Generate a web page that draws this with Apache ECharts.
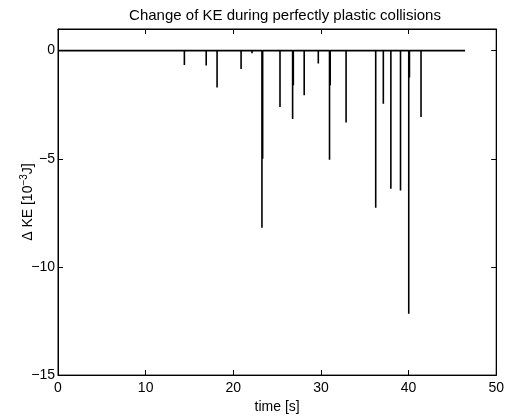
<!DOCTYPE html>
<html>
<head>
<meta charset="utf-8">
<script src="https://cdn.jsdelivr.net/npm/echarts@6/dist/echarts.min.js"></script>
<style>
  html, body { margin: 0; padding: 0; background: #fff; }
  #chart { width: 507px; height: 419px; }
</style>
</head>
<body>
<div id="chart"></div>
<script>
// collision instants [s] and the KE drop at each one [10^-3 J]
var spikeTimes = [14.42, 16.91, 18.15, 20.89, 22.14, 22.62, 23.27, 23.35, 25.33,
  26.77, 26.85, 28.09, 29.70, 30.98, 31.06, 32.87, 36.25, 37.12, 37.98,
  39.08, 40.02, 40.10, 41.42];
var spikeDrops = [-0.66, -0.69, -1.70, -0.85, -0.12, -0.06, -8.19, -5.0, -2.61,
  -3.16, -1.6, -2.06, -0.60, -5.05, -1.6, -3.32, -7.26, -2.45, -6.39,
  -6.47, -12.16, -1.24, -3.07];
var tStart = 0;
var tEnd = 46.45;

var xTicks = [0, 10, 20, 30, 40, 50];
var yTicks = [-15, -10, -5, 0];

// build the dKE(t) trace: zero between collisions, a drop at each one
var trace = [[tStart, 0]];
spikeTimes.forEach(function (t, i) {
  trace.push([t, 0], [t, spikeDrops[i]], [t, 0]);
});
trace.push([tEnd, 0]);

var fontFamily = 'Liberation Sans, Arial, sans-serif';
var minus = function (v) { return String(v).replace('-', '\u2212'); };

var myChart = echarts.init(document.getElementById('chart'));
var tickInside = { show: true, inside: true, length: 5, lineStyle: { color: '#000', width: 1 } };
var frameLine = { show: true, onZero: false, lineStyle: { color: '#000', width: 1 } };

var option = {
  animation: false,
  backgroundColor: '#fff',
  title: {
    text: 'Change of KE during perfectly plastic collisions',
    left: 280,
    top: 3,
    textAlign: 'center',
    textStyle: { fontFamily: fontFamily, fontSize: 15, fontWeight: 'normal', color: '#000' }
  },
  grid: {
    left: 58, right: 6, top: 29, bottom: 41,
    show: true, borderColor: '#000', borderWidth: 1, backgroundColor: '#fff'
  },
  xAxis: [{
    type: 'value', min: 0, max: 50, interval: 10,
    name: 'time [s]', nameLocation: 'middle', nameGap: 21,
    nameTextStyle: { fontFamily: fontFamily, fontSize: 14, color: '#000' },
    axisLine: frameLine,
    axisTick: Object.assign({ customValues: xTicks }, tickInside),
    axisLabel: { customValues: xTicks, margin: 6, fontFamily: fontFamily, fontSize: 14, color: '#000' },
    splitLine: { show: false }
  }, {
    type: 'value', min: 0, max: 50, interval: 10, position: 'top',
    axisLine: frameLine,
    axisTick: Object.assign({ customValues: xTicks }, tickInside),
    axisLabel: { show: false },
    splitLine: { show: false }
  }],
  yAxis: [{
    type: 'value', min: -15, max: 1, interval: 5,
    name: '{t|\u0394 KE [10}{s|\u22123}{t|J]}', nameLocation: 'middle', nameGap: 21,
    nameMoveOverlap: false,
    nameTextStyle: {
      fontFamily: fontFamily, fontSize: 14, color: '#000',
      rich: {
        t: { fontFamily: fontFamily, fontSize: 14, color: '#000' },
        s: { fontFamily: fontFamily, fontSize: 10, color: '#000', verticalAlign: 'top', padding: [0, 0, 8, 0] }
      }
    },
    axisLine: frameLine,
    axisTick: Object.assign({ customValues: yTicks }, tickInside),
    axisLabel: { customValues: yTicks, margin: 3, fontFamily: fontFamily, fontSize: 14, color: '#000', formatter: minus },
    splitLine: { show: false }
  }, {
    type: 'value', min: -15, max: 1, interval: 5, position: 'right',
    axisLine: frameLine,
    axisTick: Object.assign({ customValues: yTicks }, tickInside),
    axisLabel: { show: false },
    splitLine: { show: false }
  }],
  series: [{
    type: 'line',
    data: trace,
    showSymbol: false,
    symbol: 'none',
    lineStyle: { color: '#000', width: 1.6 }
  }]
};

myChart.setOption(option);
window.addEventListener('resize', function () { myChart.resize(); });
</script>
</body>
</html>
